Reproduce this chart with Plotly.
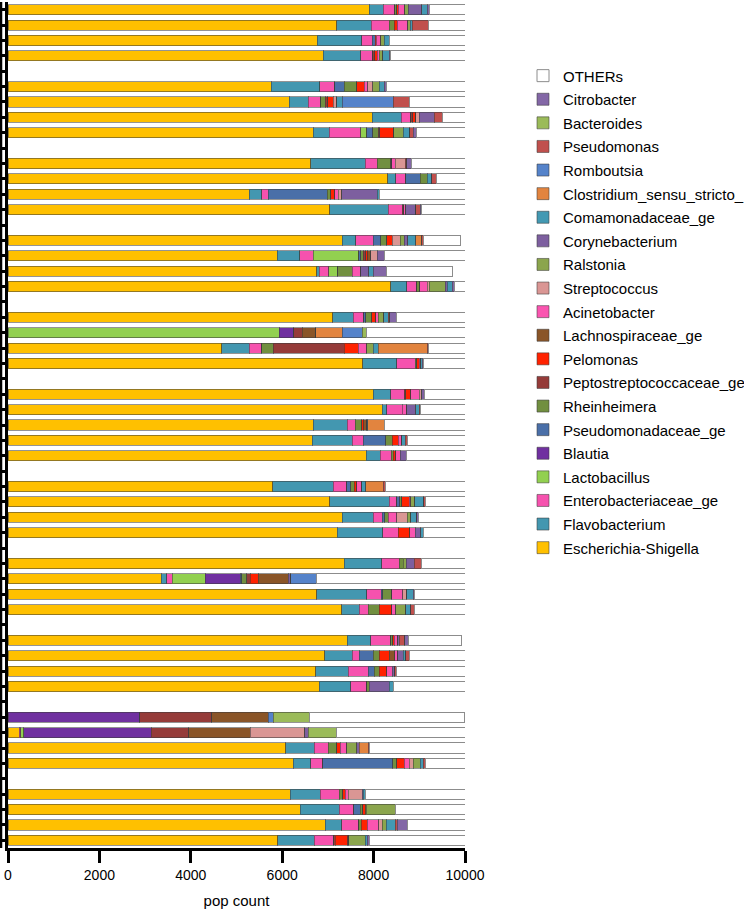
import plotly.graph_objects as go

# ---------------- data ----------------
series_names = [
    "Escherichia-Shigella", "Flavobacterium", "Enterobacteriaceae_ge", "Lactobacillus",
    "Blautia", "Pseudomonadaceae_ge", "Rheinheimera", "Peptostreptococcaceae_ge",
    "Pelomonas", "Lachnospiraceae_ge", "Acinetobacter", "Streptococcus", "Ralstonia",
    "Corynebacterium", "Comamonadaceae_ge", "Clostridium_sensu_stricto_", "Romboutsia",
    "Pseudomonas", "Bacteroides", "Citrobacter", "OTHERs",
]

# samples are drawn in groups (top to bottom), separated by an empty row
group_sizes = [4, 4, 4, 4, 4, 5, 4, 4, 4, 4, 4]

escherichia = [7906, 7192, 6768, 6900, 5755, 6155, 7971, 6674, 6630, 8307,
               5280, 7045, 7315, 5893, 6754, 8373, 7104, 0, 4675, 7761,
               7993, 8190, 6680, 6652, 7834, 5791, 7045, 7315, 7206, 7359,
               3348, 6754, 7300, 7424, 6936, 6739, 6812, 0, 241, 6076,
               6243, 6181, 6400, 6946, 5904]
flavobacterium = [306, 751, 970, 817, 1072, 416, 635, 357, 1189, 182,
                  277, 1277, 292, 496, 58, 350, 452, 0, 605, 744,
                  379, 95, 744, 876, 306, 1327, 1298, 679, 992, 817,
                  124, 1094, 386, 518, 598, 707, 686, 0, 0, 620,
                  379, 656, 852, 357, 802]
enterobacteriaceae = [256, 394, 227, 262, 328, 277, 212, 693, 263, 219,
                      139, 306, 387, 292, 204, 219, 233, 0, 270, 401,
                      299, 343, 175, 241, 241, 292, 161, 197, 343, 387,
                      124, 314, 197, 438, 153, 438, 350, 0, 36, 314,
                      263, 415, 314, 372, 423]
lactobacillus = [0, 0, 0, 0, 0, 0, 0, 124, 0, 0,
                 0, 0, 0, 999, 197, 0, 0, 5930, 0, 0,
                 0, 0, 0, 0, 0, 0, 0, 0, 0, 0,
                 715, 0, 0, 0, 0, 0, 0, 0, 66, 0,
                 0, 0, 0, 0, 0]
blautia = [0, 0, 0, 0, 0, 0, 0, 0, 0, 0,
           0, 0, 0, 0, 0, 0, 0, 328, 0, 0,
           0, 0, 0, 0, 0, 0, 0, 0, 0, 0,
           766, 0, 0, 0, 0, 0, 0, 2888, 2794, 0,
           0, 0, 0, 0, 0]
pseudomonadaceae = [0, 0, 66, 0, 204, 0, 0, 131, 0, 314,
                    1291, 0, 161, 44, 0, 0, 44, 0, 0, 0,
                    0, 0, 0, 496, 0, 88, 73, 58, 0, 0,
                    36, 36, 0, 0, 306, 131, 0, 0, 0, 0,
                    1532, 0, 146, 0, 0]
rheinheimera = [36, 116, 0, 0, 270, 95, 0, 124, 292, 153,
                73, 0, 131, 51, 321, 73, 131, 0, 255, 36,
                0, 0, 139, 146, 51, 80, 36, 73, 0, 88,
                110, 197, 241, 36, 131, 110, 58, 0, 0, 182,
                88, 73, 51, 51, 0]
peptostreptococcaceae = [0, 0, 0, 44, 0, 51, 36, 29, 22, 0,
                         0, 36, 0, 51, 0, 0, 0, 182, 1554, 0,
                         36, 0, 0, 0, 0, 0, 0, 0, 0, 0,
                         73, 0, 0, 0, 0, 0, 0, 1569, 817, 0,
                         0, 0, 0, 0, 29]
pelomonas = [36, 66, 30, 58, 168, 124, 73, 314, 0, 0,
             95, 0, 124, 44, 0, 0, 88, 0, 306, 58,
             102, 0, 44, 131, 58, 51, 168, 0, 255, 0,
             182, 0, 270, 36, 219, 161, 0, 0, 0, 73,
             168, 51, 51, 131, 277]
lachnospiraceae = [0, 0, 0, 0, 0, 0, 0, 0, 0, 0,
                   0, 0, 0, 66, 0, 0, 0, 292, 0, 0,
                   0, 0, 66, 0, 0, 0, 0, 0, 0, 0,
                   656, 0, 0, 0, 124, 0, 0, 1239, 1349, 0,
                   0, 0, 22, 0, 22]
acinetobacter = [146, 227, 95, 44, 73, 0, 0, 0, 73, 0,
                 73, 36, 0, 0, 182, 161, 51, 0, 182, 29,
                 190, 95, 0, 73, 88, 110, 29, 182, 110, 0,
                 0, 241, 95, 73, 58, 124, 0, 0, 0, 146,
                 110, 73, 0, 255, 0]
streptococcus = [0, 0, 0, 0, 110, 73, 73, 0, 219, 0,
                 73, 0, 168, 146, 0, 44, 0, 0, 0, 0,
                 51, 0, 0, 0, 0, 0, 0, 233, 0, 0,
                 0, 88, 0, 0, 0, 0, 0, 0, 1189, 0,
                 88, 299, 0, 73, 0]
ralstonia = [73, 51, 73, 73, 146, 0, 0, 204, 0, 0,
             0, 0, 88, 0, 0, 343, 124, 0, 146, 0,
             0, 0, 0, 0, 0, 0, 95, 73, 0, 58,
             0, 0, 212, 0, 0, 0, 0, 0, 0, 219,
             146, 0, 641, 88, 364]
corynebacterium = [292, 0, 0, 0, 0, 0, 328, 0, 0, 0,
                   780, 226, 80, 146, 182, 51, 0, 0, 0, 0,
                   58, 197, 0, 0, 146, 0, 0, 0, 131, 175,
                   51, 0, 0, 36, 124, 58, 437, 0, 73, 58,
                   0, 29, 0, 0, 0]
comamonadaceae = [124, 51, 110, 146, 102, 124, 0, 146, 0, 95,
                  44, 0, 175, 0, 95, 110, 95, 0, 110, 36,
                  0, 80, 22, 73, 0, 88, 197, 131, 51, 0,
                  0, 146, 117, 0, 51, 0, 88, 0, 0, 0,
                  73, 44, 0, 204, 36]
clostridium = [0, 0, 0, 0, 0, 0, 0, 0, 0, 0,
               0, 0, 131, 0, 0, 0, 0, 583, 1072, 0,
               0, 0, 365, 0, 0, 387, 0, 0, 0, 0,
               0, 0, 0, 0, 0, 0, 0, 0, 0, 197,
               0, 0, 0, 0, 0]
romboutsia = [0, 0, 0, 0, 0, 1117, 0, 0, 0, 0,
              0, 0, 0, 0, 0, 0, 0, 437, 0, 0,
              0, 0, 0, 0, 0, 0, 0, 0, 0, 0,
              569, 0, 0, 0, 0, 0, 0, 110, 0, 0,
              0, 0, 0, 0, 0]
pseudomonas = [0, 350, 0, 0, 0, 350, 190, 73, 36, 110,
               0, 95, 36, 0, 0, 0, 36, 0, 36, 0,
               0, 36, 0, 58, 0, 51, 36, 0, 0, 168,
               0, 0, 73, 124, 95, 36, 0, 0, 0, 36,
               51, 0, 0, 36, 0]
bacteroides = [0, 0, 0, 0, 0, 0, 0, 0, 0, 0,
               0, 0, 0, 0, 0, 0, 0, 95, 0, 0,
               0, 0, 0, 0, 0, 0, 0, 0, 0, 0,
               0, 0, 0, 0, 0, 0, 0, 788, 620, 0,
               0, 0, 0, 0, 0]
citrobacter = [51, 0, 0, 29, 58, 0, 0, 73, 110, 0,
               0, 36, 0, 0, 292, 51, 146, 0, 0, 22,
               0, 0, 0, 0, 0, 0, 0, 51, 0, 0,
               0, 22, 0, 73, 0, 0, 0, 0, 0, 0,
               0, 0, 0, 233, 51]
others = [774, 802, 1661, 1627, 1714, 1218, 482, 1058, 1166, 620,
          1875, 943, 817, 1772, 1437, 225, 1496, 2153, 789, 913,
          892, 964, 1765, 1254, 1276, 1735, 862, 1008, 912, 948,
          3246, 1108, 1109, 1169, 1205, 1496, 1569, 3391, 2815, 2079,
          859, 2179, 1523, 1254, 2092]

x_ticks = [0, 2000, 4000, 6000, 8000, 10000]
x_tick_labels = ["0", "2000", "4000", "6000", "8000", "10000"]

# ---------------- styling ----------------
series_values = [escherichia, flavobacterium, enterobacteriaceae, lactobacillus, blautia,
                 pseudomonadaceae, rheinheimera, peptostreptococcaceae, pelomonas,
                 lachnospiraceae, acinetobacter, streptococcus, ralstonia, corynebacterium,
                 comamonadaceae, clostridium, romboutsia, pseudomonas, bacteroides,
                 citrobacter, others]
series_colors = ["#FFC000", "#4397B0", "#F652AE", "#92D050", "#7030A0", "#4A6FA8",
                 "#718F40", "#953B39", "#FF2200", "#8A5528", "#FA55B0", "#DA9694",
                 "#8BA54D", "#7D5F9F", "#4399B3", "#E2843F", "#5583CA", "#C0504D",
                 "#9BBB59", "#8367A6", "#FFFFFF"]

FONT = "Liberation Sans, Arial, Helvetica, sans-serif"

# categories: sample rows + empty spacer rows between groups
sample_ids = []
cat_order = []
spacers = []
k = 0
for gi, n in enumerate(group_sizes):
    for _ in range(n):
        k += 1
        sid = "S%02d" % k
        sample_ids.append(sid)
        cat_order.append(sid)
    if gi < len(group_sizes) - 1:
        sp = "gap%02d" % (gi + 1)
        spacers.append(sp)
        cat_order.append(sp)

fig = go.Figure()
n_series = len(series_names)
for i, (name, vals, col) in enumerate(zip(series_names, series_values, series_colors)):
    line_col = "#8C8C8C" if name == "OTHERs" else "rgba(60,60,60,0.55)"
    fig.add_trace(go.Bar(
        y=sample_ids, x=vals, orientation="h", name=name,
        legendgroup=name, legendrank=100 + (n_series - i),
        marker=dict(color=col, line=dict(color=line_col, width=1)),
    ))

# invisible trace so the spacer rows exist on the category axis
fig.add_trace(go.Bar(y=spacers, x=[0] * len(spacers), orientation="h",
                     showlegend=False, hoverinfo="skip",
                     marker=dict(color="rgba(0,0,0,0)", line=dict(width=0))))

# thin black edge at the far left, as in the reference
fig.add_shape(type="line", xref="paper", yref="paper",
              x0=-7.0 / 457, x1=-7.0 / 457, y0=0, y1=1,
              line=dict(color="black", width=2.5))

fig.update_layout(
    width=744, height=911, autosize=False,
    margin=dict(l=8, r=279, t=2, b=63),
    barmode="stack", bargap=0.34,
    plot_bgcolor="white", paper_bgcolor="white",
    font=dict(family=FONT, size=14, color="black"),
    legend=dict(
        xref="container", yref="container",
        x=523 / 744, xanchor="left", y=1 - 59.4 / 911, yanchor="top",
        maxheight=840,
        traceorder="grouped", tracegroupgap=1.1,
        font=dict(size=15, family=FONT, color="black"),
        bgcolor="rgba(0,0,0,0)",
    ),
    xaxis=dict(
        range=[0, 10000], tickmode="array", tickvals=x_ticks, ticktext=x_tick_labels,
        showline=True, linewidth=3, linecolor="black",
        ticks="outside", ticklen=12, tickwidth=3, tickcolor="black",
        showgrid=False, zeroline=False, automargin=False,
        tickfont=dict(size=14, family=FONT),
        title=dict(text="pop count", font=dict(size=15, family=FONT), standoff=14),
    ),
    yaxis=dict(
        type="category", categoryorder="array", categoryarray=cat_order,
        range=[len(cat_order) - 0.5, -0.5],
        tickmode="linear", tick0=0, dtick=1,
        showline=True, linewidth=3, linecolor="black",
        ticks="outside", ticklen=7, tickwidth=3, tickcolor="black",
        showticklabels=False, showgrid=False, zeroline=False, automargin=False,
    ),
)

# the page body has a default 8px margin; remove it so the figure sits at (0, 0)
fig.write_html(
    "out.html",
    config={"displayModeBar": False, "responsive": False},
    post_script="document.body.style.margin='0';document.body.style.overflow='hidden';",
)
